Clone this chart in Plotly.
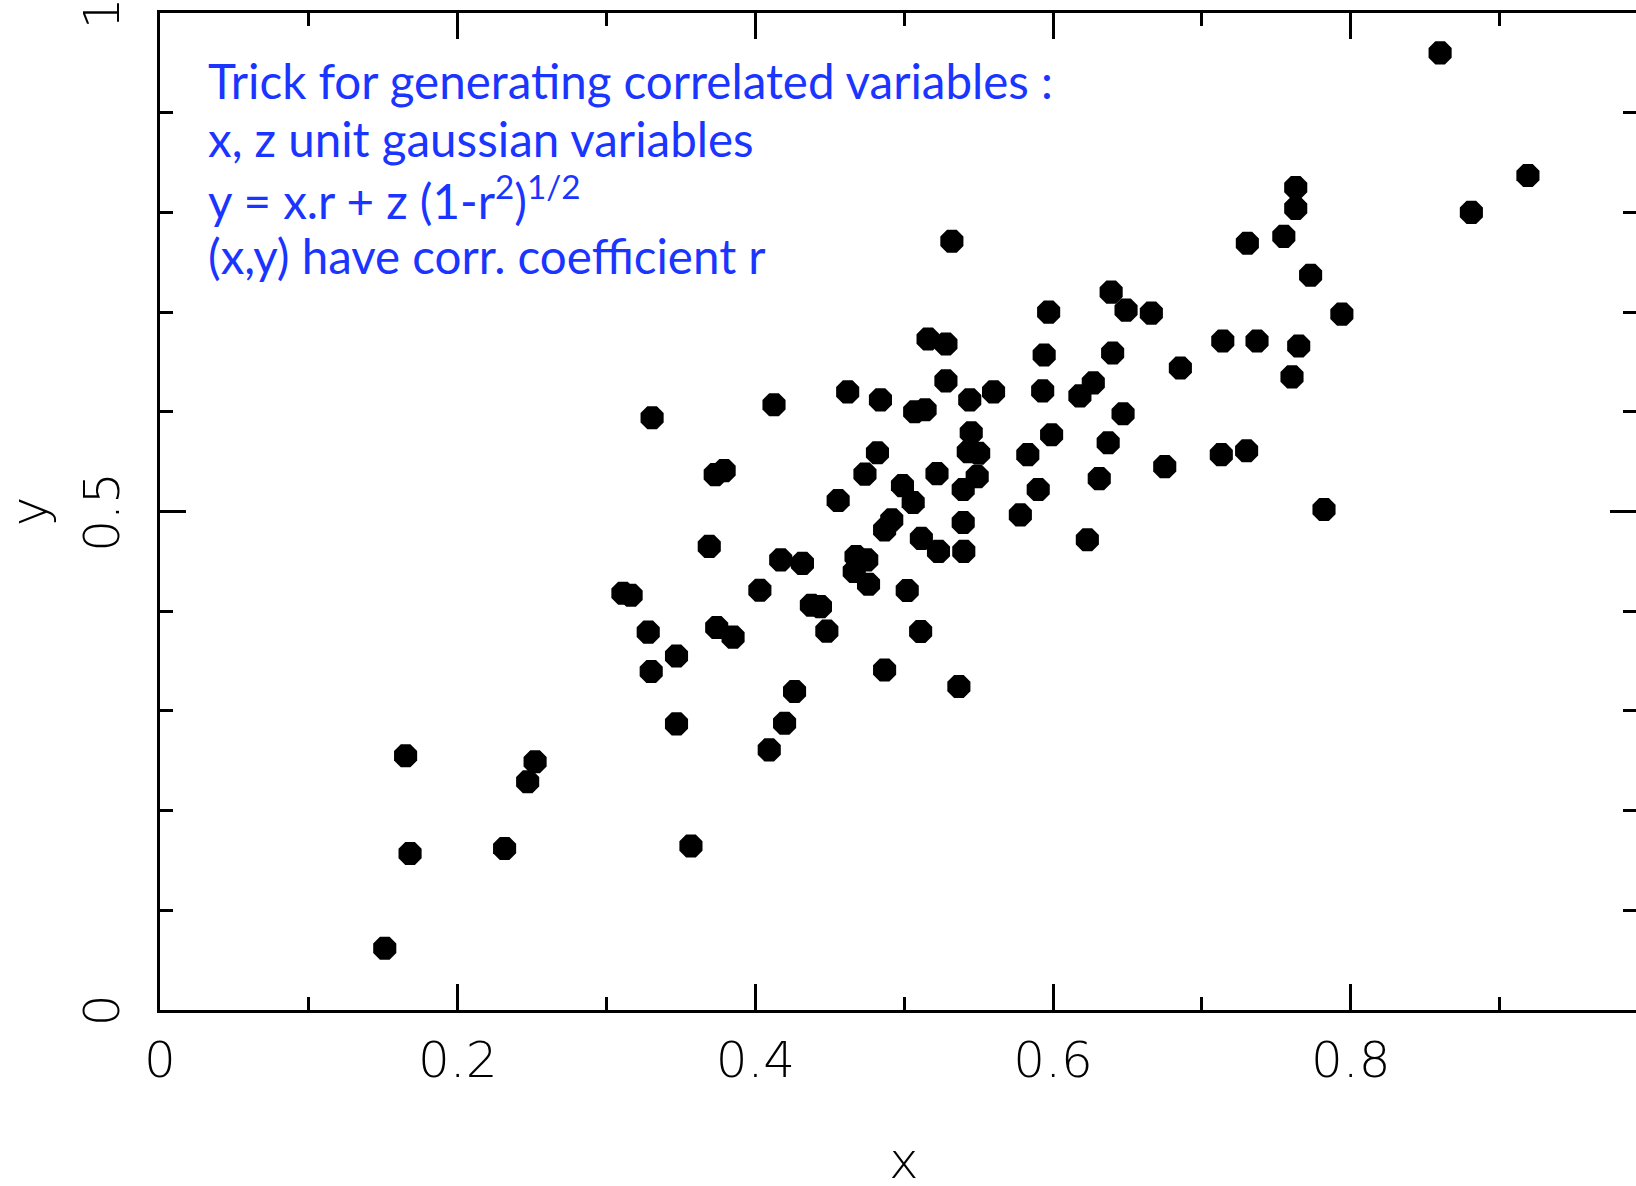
import plotly.graph_objects as go

# ---- data ----
x_vals = [0.151, 0.165, 0.168, 0.2315, 0.247, 0.252, 0.311, 0.3165, 0.328, 0.330,
          0.3306, 0.347, 0.347, 0.3567, 0.369, 0.373, 0.379, 0.374, 0.385, 0.403,
          0.4093, 0.4125, 0.417, 0.4196, 0.4263, 0.4316, 0.4376, 0.4437, 0.448, 0.4556,
          0.462, 0.4676, 0.4748, 0.4664, 0.4736, 0.476, 0.482, 0.484, 0.4868, 0.4868,
          0.4916, 0.4988, 0.502, 0.506, 0.507, 0.514, 0.5115, 0.511, 0.516, 0.522,
          0.523, 0.528, 0.528, 0.532, 0.5367, 0.5396, 0.540, 0.5396, 0.544, 0.545,
          0.543, 0.550, 0.549, 0.560, 0.578, 0.583, 0.590, 0.593, 0.594, 0.597,
          0.599, 0.618, 0.623, 0.627, 0.631, 0.637, 0.639, 0.640, 0.647, 0.649,
          0.666, 0.675, 0.6855, 0.713, 0.714, 0.730, 0.7305, 0.737, 0.755, 0.7605,
          0.763, 0.763, 0.765, 0.773, 0.782, 0.794, 0.860, 0.881, 0.919]
y_vals = [0.062, 0.255, 0.157, 0.162, 0.229, 0.249, 0.418, 0.416, 0.379, 0.3395,
          0.594, 0.355, 0.287, 0.1645, 0.465, 0.537, 0.541, 0.3836, 0.374, 0.421,
          0.2609, 0.607, 0.4515, 0.2876, 0.3194, 0.448, 0.406, 0.4046, 0.380, 0.511,
          0.620, 0.4548, 0.4515, 0.4398, 0.5375, 0.427, 0.559, 0.612, 0.4816, 0.341,
          0.4916, 0.526, 0.4207, 0.509, 0.600, 0.602, 0.473, 0.3796, 0.673, 0.538,
          0.460, 0.668, 0.631, 0.771, 0.3244, 0.489, 0.460, 0.522, 0.612, 0.579,
          0.560, 0.5585, 0.535, 0.620, 0.4966, 0.557, 0.522, 0.621, 0.657, 0.700,
          0.577, 0.616, 0.4716, 0.629, 0.533, 0.569, 0.720, 0.659, 0.598, 0.702,
          0.699, 0.545, 0.644, 0.557, 0.671, 0.561, 0.769, 0.671, 0.776, 0.635,
          0.825, 0.804, 0.666, 0.737, 0.502, 0.698, 0.960, 0.800, 0.837]

x_tick_vals = [0, 0.2, 0.4, 0.6, 0.8]
x_tick_text = ["0", "0.2", "0.4", "0.6", "0.8"]
x_minor_vals = [0.1, 0.3, 0.5, 0.7, 0.9]
y_tick_vals = [0, 0.5, 1]
y_tick_text = ["0\u00a0", "0.5\u00a0", "1\u00a0"]
y_minor_vals = [0.1, 0.2, 0.3, 0.4, 0.6, 0.7, 0.8, 0.9]
x_title = "x"
y_title = "y"

note_lines = [
    "Trick for generating correlated variables :",
    "x, z unit gaussian variables",
    "y = x.r + z (1-r<sup>2</sup>)<sup>1/2</sup>",
    "(x,y) have corr. coefficient r",
]
note_y = [0.9325, 0.8738, 0.8152, 0.7567]

# ---- figure ----
fig = go.Figure(
    go.Scatter(
        x=x_vals, y=y_vals, mode="markers",
        marker=dict(symbol="octagon", size=25, color="black", line=dict(width=0)),
        hoverinfo="skip",
    )
)

axis_font = dict(family="DejaVu Sans", size=50, color="black", weight=200)

fig.update_layout(
    width=1636, height=1186,
    margin=dict(l=160, r=0, t=13, b=176, autoexpand=False),
    plot_bgcolor="white", paper_bgcolor="white",
    showlegend=False,
)

fig.update_xaxes(
    range=[0, 0.9916], tickmode="array", tickvals=x_tick_vals, ticktext=x_tick_text,
    ticks="inside", ticklen=26, tickwidth=3, tickcolor="black",
    showline=True, linewidth=3, linecolor="black", mirror="ticks",
    showgrid=False, zeroline=False,
    minor=dict(tickmode="array", tickvals=x_minor_vals, ticks="inside",
               ticklen=13, tickwidth=3, tickcolor="black", showgrid=False),
    tickfont=axis_font, ticklabelstandoff=4,
    automargin=False,
)

fig.update_yaxes(
    range=[0, 1], tickmode="array", tickvals=y_tick_vals, ticktext=y_tick_text,
    ticks="inside", ticklen=26, tickwidth=3, tickcolor="black",
    showline=True, linewidth=3, linecolor="black", mirror="ticks",
    showgrid=False, zeroline=False,
    minor=dict(tickmode="array", tickvals=y_minor_vals, ticks="inside",
               ticklen=13, tickwidth=3, tickcolor="black", showgrid=False),
    tickfont=axis_font, tickangle=-90, ticklabelstandoff=18,
    ticklabeloverflow="allow",
    title=dict(text=y_title, font=axis_font, standoff=20),
    automargin=False,
)

# x axis title placed as an annotation so it can sit lower than the margin allows
fig.add_annotation(
    text=x_title, xref="paper", yref="paper", x=0.504, y=-0.151,
    xanchor="center", yanchor="middle", showarrow=False, font=axis_font,
)

for text, yy in zip(note_lines, note_y):
    fig.add_annotation(
        text=text, xref="paper", yref="paper", x=0.031, y=yy,
        xanchor="left", yanchor="middle", align="left", showarrow=False,
        font=dict(family="Lato", size=47.5, color="#1a35ff"),
    )

fig.write_html("out.html")
